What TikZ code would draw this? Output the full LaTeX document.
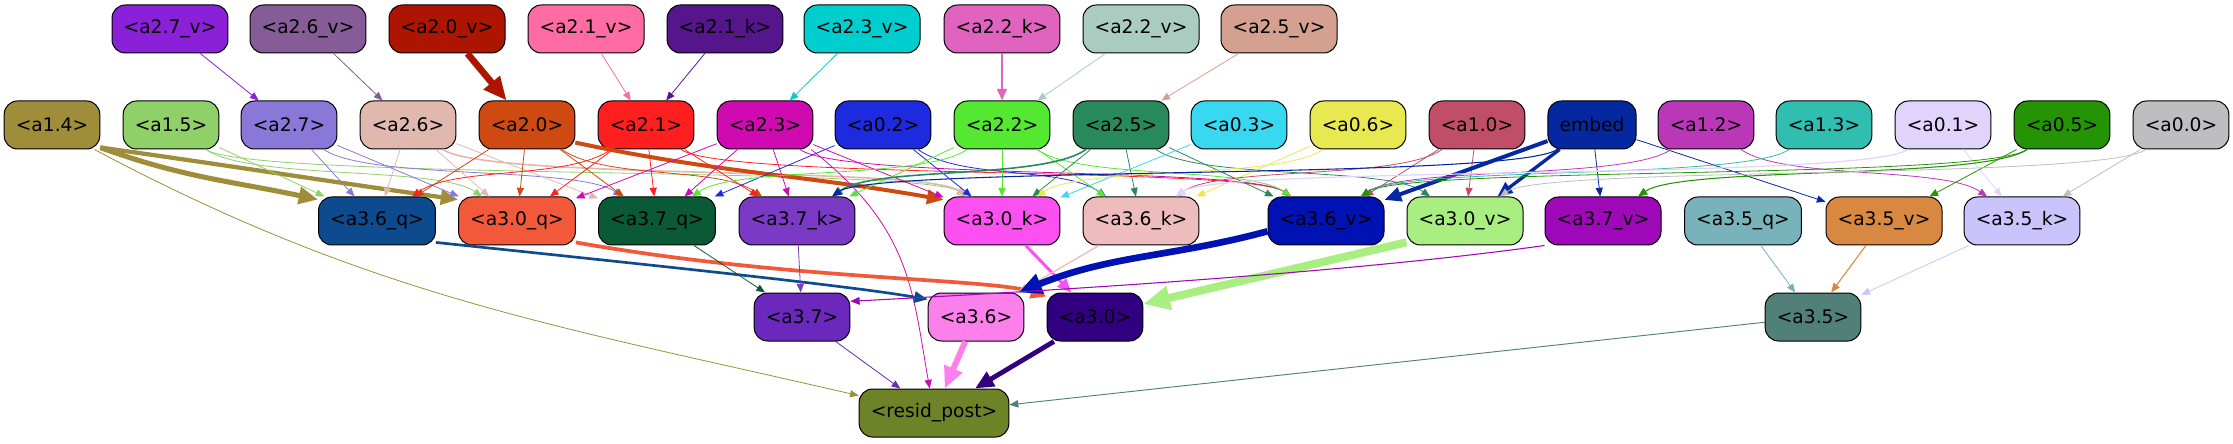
\documentclass[tikz,border=0pt]{standalone}
\usepackage{fontspec}
\setmainfont{DejaVu Sans}
\usepackage{xcolor}
\usepackage{tikz}
\usetikzlibrary{arrows.meta}
% node colours
\definecolor{Ca27v}{RGB}{138,32,216}
\definecolor{Ca26v}{RGB}{133,92,150}
\definecolor{Ca20v}{RGB}{174,21,1}
\definecolor{Ca21v}{RGB}{255,107,163}
\definecolor{Ca21k}{RGB}{85,22,140}
\definecolor{Ca23v}{RGB}{0,206,206}
\definecolor{Ca22k}{RGB}{224,99,192}
\definecolor{Ca22v}{RGB}{170,204,192}
\definecolor{Ca25v}{RGB}{212,160,144}
\definecolor{Ca14}{RGB}{160,141,58}
\definecolor{Ca15}{RGB}{144,208,104}
\definecolor{Ca27}{RGB}{138,120,216}
\definecolor{Ca26}{RGB}{224,184,174}
\definecolor{Ca20}{RGB}{206,74,16}
\definecolor{Ca21}{RGB}{255,31,31}
\definecolor{Ca23}{RGB}{206,10,176}
\definecolor{Ca02}{RGB}{30,42,222}
\definecolor{Ca22}{RGB}{85,232,48}
\definecolor{Ca25}{RGB}{40,138,92}
\definecolor{Ca03}{RGB}{56,216,240}
\definecolor{Ca06}{RGB}{232,232,80}
\definecolor{Ca10}{RGB}{192,78,104}
\definecolor{Cembed}{RGB}{5,40,160}
\definecolor{Ca12}{RGB}{186,56,184}
\definecolor{Ca13}{RGB}{48,190,176}
\definecolor{Ca01}{RGB}{224,212,252}
\definecolor{Ca05}{RGB}{36,148,4}
\definecolor{Ca00}{RGB}{190,190,192}
\definecolor{Ca36q}{RGB}{14,74,142}
\definecolor{Ca30q}{RGB}{242,89,58}
\definecolor{Ca37q}{RGB}{10,90,56}
\definecolor{Ca37k}{RGB}{122,58,198}
\definecolor{Ca30k}{RGB}{252,80,240}
\definecolor{Ca36k}{RGB}{238,188,188}
\definecolor{Ca36v}{RGB}{0,18,180}
\definecolor{Ca30v}{RGB}{168,238,128}
\definecolor{Ca37v}{RGB}{158,8,184}
\definecolor{Ca35q}{RGB}{120,178,186}
\definecolor{Ca35v}{RGB}{216,136,64}
\definecolor{Ca35k}{RGB}{202,196,252}
\definecolor{Ca37}{RGB}{106,40,188}
\definecolor{Ca36}{RGB}{252,128,236}
\definecolor{Ca30}{RGB}{48,0,128}
\definecolor{Ca35}{RGB}{80,128,120}
\definecolor{Cresid}{RGB}{110,130,40}

\begin{document}
\begin{tikzpicture}[x=0.75pt, y=0.75pt,
    box/.style={draw, rounded corners=10pt, line width=0.75pt, minimum height=36pt,
      inner xsep=8.7pt, inner ysep=0pt, font=\fontsize{14}{16}\selectfont},
    edge/.style={-{Triangle[length=5pt 2.5, width=4pt 2.2]}, line width=0.6pt},
    rcurve/.style={out=-35, in=145, distance=40pt},
    lcurve/.style={out=-145, in=35, distance=40pt}]
  \useasboundingbox (0,0) rectangle (2233,443);

  % top row
  \node[box, fill=Ca27v] (a27v) at (170,414) {<a2.7\_v>};
  \node[box, fill=Ca26v] (a26v) at (308,414) {<a2.6\_v>};
  \node[box, fill=Ca20v] (a20v) at (447,414) {<a2.0\_v>};
  \node[box, fill=Ca21v] (a21v) at (586,414) {<a2.1\_v>};
  \node[box, fill=Ca21k] (a21k) at (725,414) {<a2.1\_k>};
  \node[box, fill=Ca23v] (a23v) at (862,414) {<a2.3\_v>};
  \node[box, fill=Ca22k] (a22k) at (1002,414) {<a2.2\_k>};
  \node[box, fill=Ca22v] (a22v) at (1141,414) {<a2.2\_v>};
  \node[box, fill=Ca25v] (a25v) at (1279,414) {<a2.5\_v>};

  % second row
  \node[box, fill=Ca14] (a14) at (52,318) {<a1.4>};
  \node[box, fill=Ca15] (a15) at (171,318) {<a1.5>};
  \node[box, fill=Ca27] (a27) at (289,318) {<a2.7>};
  \node[box, fill=Ca26] (a26) at (408,318) {<a2.6>};
  \node[box, fill=Ca20] (a20) at (527,318) {<a2.0>};
  \node[box, fill=Ca21] (a21) at (646,318) {<a2.1>};
  \node[box, fill=Ca23] (a23) at (765,318) {<a2.3>};
  \node[box, fill=Ca02] (a02) at (883,318) {<a0.2>};
  \node[box, fill=Ca22] (a22) at (1002,318) {<a2.2>};
  \node[box, fill=Ca25] (a25) at (1121,318) {<a2.5>};
  \node[box, fill=Ca03] (a03) at (1239,318) {<a0.3>};
  \node[box, fill=Ca06] (a06) at (1358,318) {<a0.6>};
  \node[box, fill=Ca10] (a10) at (1477,318) {<a1.0>};
  \node[box, fill=Cembed] (embed) at (1592,318) {embed};
  \node[box, fill=Ca12] (a12) at (1706,318) {<a1.2>};
  \node[box, fill=Ca13] (a13) at (1824,318) {<a1.3>};
  \node[box, fill=Ca01] (a01) at (1943,318) {<a0.1>};
  \node[box, fill=Ca05] (a05) at (2062,318) {<a0.5>};
  \node[box, fill=Ca00] (a00) at (2181,318) {<a0.0>};

  % layer 3 q/k/v
  \node[box, fill=Ca36q] (a36q) at (377,222) {<a3.6\_q>};
  \node[box, fill=Ca30q] (a30q) at (517,222) {<a3.0\_q>};
  \node[box, fill=Ca37q] (a37q) at (657,222) {<a3.7\_q>};
  \node[box, fill=Ca37k] (a37k) at (797,222) {<a3.7\_k>};
  \node[box, fill=Ca30k] (a30k) at (1002,222) {<a3.0\_k>};
  \node[box, fill=Ca36k] (a36k) at (1141,222) {<a3.6\_k>};
  \node[box, fill=Ca36v] (a36v) at (1326,222) {<a3.6\_v>};
  \node[box, fill=Ca30v] (a30v) at (1465,222) {<a3.0\_v>};
  \node[box, fill=Ca37v] (a37v) at (1603,222) {<a3.7\_v>};
  \node[box, fill=Ca35q] (a35q) at (1743,222) {<a3.5\_q>};
  \node[box, fill=Ca35v] (a35v) at (1884,222) {<a3.5\_v>};
  \node[box, fill=Ca35k] (a35k) at (2022,222) {<a3.5\_k>};

  % layer 3 heads and output
  \node[box, fill=Ca37] (a37) at (802,126) {<a3.7>};
  \node[box, fill=Ca36] (a36) at (976,126) {<a3.6>};
  \node[box, fill=Ca30] (a30) at (1095,126) {<a3.0>};
  \node[box, fill=Ca35] (a35) at (1813,126) {<a3.5>};
  \node[box, fill=Cresid] (resid) at (934,30) {<resid\_post>};

  % top row to second row
  \draw[edge, draw=Ca27v] (a27v) -- (a27);
  \draw[edge, draw=Ca26v] (a26v) -- (a26);
  \draw[edge, draw=Ca20v, line width=5pt] (a20v) -- (a20);
  \draw[edge, draw=Ca21v] (a21v) -- (a21);
  \draw[edge, draw=Ca21k] (a21k) -- (a21);
  \draw[edge, draw=Ca23v] (a23v) -- (a23);
  \draw[edge, draw=Ca22k, line width=1.5pt] (a22k) -- (a22);
  \draw[edge, draw=Ca22v] (a22v) -- (a22);
  \draw[edge, draw=Ca25v] (a25v) -- (a25);

  % second row to q/k/v
  \draw[edge, draw=Ca14, line width=3.8pt] (a14.-25) to[out=-20,in=168] (a36q.160);
  \draw[edge, draw=Ca14, line width=3.2pt] (a14.-25) to[out=-8,in=172] (a30q.160);
  \draw[edge, draw=Ca14] (a14.-30) to[out=-28,in=167] (resid);
  \draw[edge, draw=Ca15] (a15) -- (a36q);
  \draw[edge, draw=Ca15] (a15) to[rcurve] (a30q);
  \draw[edge, draw=Ca15] (a15) to[rcurve] (a30k);
  \draw[edge, draw=Ca27] (a27) -- (a36q);
  \draw[edge, draw=Ca27] (a27) -- (a30q);
  \draw[edge, draw=Ca27] (a27) to[rcurve] (a37q);
  \draw[edge, draw=Ca26] (a26) -- (a36q);
  \draw[edge, draw=Ca26] (a26) -- (a30q);
  \draw[edge, draw=Ca26] (a26) -- (a37q);
  \draw[edge, draw=Ca26, line width=1.2pt] (a26) to[rcurve] (a30k);
  \draw[edge, draw=Ca20] (a20) -- (a36q);
  \draw[edge, draw=Ca20] (a20) -- (a30q);
  \draw[edge, draw=Ca20] (a20) -- (a37q);
  \draw[edge, draw=Ca20] (a20) to[rcurve] (a37k);
  \draw[edge, draw=Ca20, line width=3pt] (a20.-20) to[out=-12,in=170] (a30k.160);
  \draw[edge, draw=Ca21] (a21) to[lcurve] (a36q);
  \draw[edge, draw=Ca21] (a21) -- (a30q);
  \draw[edge, draw=Ca21] (a21) -- (a37q);
  \draw[edge, draw=Ca21] (a21) -- (a37k);
  \draw[edge, draw=Ca21] (a21) to[rcurve] (a36v);
  \draw[edge, draw=Ca23] (a23) -- (a30q);
  \draw[edge, draw=Ca23] (a23) -- (a37q);
  \draw[edge, draw=Ca23] (a23) -- (a37k);
  \draw[edge, draw=Ca23] (a23) -- (a30k);
  \draw[edge, draw=Ca23] (a23) to[rcurve] (a36v);
  \draw[edge, draw=Ca23] (a23.-28) to[out=-38,in=100,out distance=95pt,in distance=75pt] (resid);
  \draw[edge, draw=Ca02] (a02) -- (a37q);
  \draw[edge, draw=Ca02] (a02) -- (a30k);
  \draw[edge, draw=Ca02] (a02) to[rcurve] (a36k);
  \draw[edge, draw=Ca22] (a22) to[lcurve] (a37q);
  \draw[edge, draw=Ca22] (a22) -- (a37k);
  \draw[edge, draw=Ca22] (a22) -- (a30k);
  \draw[edge, draw=Ca22] (a22) -- (a36k);
  \draw[edge, draw=Ca22] (a22) to[rcurve] (a36v);
  \draw[edge, draw=Ca25, line width=1.2pt] (a25) to[lcurve] (a37k);
  \draw[edge, draw=Ca25] (a25) -- (a30k);
  \draw[edge, draw=Ca25] (a25) -- (a36k);
  \draw[edge, draw=Ca25] (a25) -- (a36v);
  \draw[edge, draw=Ca25] (a25) to[rcurve] (a30v);
  \draw[edge, draw=Ca03] (a03) -- (a30k);
  \draw[edge, draw=Ca06] (a06) to[lcurve] (a30k);
  \draw[edge, draw=Ca06] (a06) -- (a36k);
  \draw[edge, draw=Ca10] (a10) to[lcurve] (a36k);
  \draw[edge, draw=Ca10] (a10) -- (a36v);
  \draw[edge, draw=Ca10] (a10) -- (a30v);
  \draw[edge, draw=Cembed, line width=0.8pt] (embed) to[lcurve] (a37k);
  \draw[edge, draw=Cembed, line width=3pt] (embed) -- (a36v);
  \draw[edge, draw=Cembed, line width=2.5pt] (embed) -- (a30v);
  \draw[edge, draw=Cembed] (embed) -- (a37v);
  \draw[edge, draw=Cembed] (embed) -- (a35v);
  \draw[edge, draw=Ca12] (a12) to[lcurve] (a36v);
  \draw[edge, draw=Ca12] (a12) to[rcurve] (a35k);
  \draw[edge, draw=Ca13] (a13) to[lcurve] (a36v);
  \draw[edge, draw=Ca01, line width=0.9pt] (a01) to[lcurve] (a36k);
  \draw[edge, draw=Ca01] (a01) -- (a35k);
  \draw[edge, draw=Ca05] (a05) to[lcurve] (a36v);
  \draw[edge, draw=Ca05, line width=0.8pt] (a05) to[lcurve] (a37v);
  \draw[edge, draw=Ca05] (a05) -- (a35v);
  \draw[edge, draw=Ca00] (a00) to[lcurve] (a30v);
  \draw[edge, draw=Ca00] (a00) -- (a35k);

  % q/k/v to heads
  \draw[edge, draw=Ca36q, line width=2pt] (a36q.-20) to[out=-6,in=170,out distance=150pt,in distance=60pt] (a36.160);
  \draw[edge, draw=Ca30q, line width=2.8pt] (a30q.-20) to[out=-10,in=162,out distance=165pt,in distance=45pt] (a30.157);
  \draw[edge, draw=Ca37q] (a37q) -- (a37);
  \draw[edge, draw=Ca37k] (a37k) -- (a37);
  \draw[edge, draw=Ca30k, line width=2.2pt] (a30k) -- (a30);
  \draw[edge, draw=Ca36k, line width=1pt] (a36k) -- (a36);
  \draw[edge, draw=Ca36v, line width=5pt] (a36v.-170) to[out=-165,in=22] (a36.30);
  \draw[edge, draw=Ca30v, line width=6pt] (a30v.-160) -- (a30.15);
  \draw[edge, draw=Ca37v, line width=0.8pt] (a37v.south west) to[out=-172,in=3,distance=148pt] (a37.18);
  \draw[edge, draw=Ca35q] (a35q) -- (a35);
  \draw[edge, draw=Ca35v, line width=0.8pt] (a35v) -- (a35);
  \draw[edge, draw=Ca35k] (a35k) -- (a35);

  % heads to output
  \draw[edge, draw=Ca37] (a37) -- (resid);
  \draw[edge, draw=Ca36, line width=4.5pt] (a36) -- (resid);
  \draw[edge, draw=Ca30, line width=3.6pt] (a30) -- (resid);
  \draw[edge, draw=Ca35, line width=0.7pt] (a35) -- (resid);
\end{tikzpicture}
\end{document}
